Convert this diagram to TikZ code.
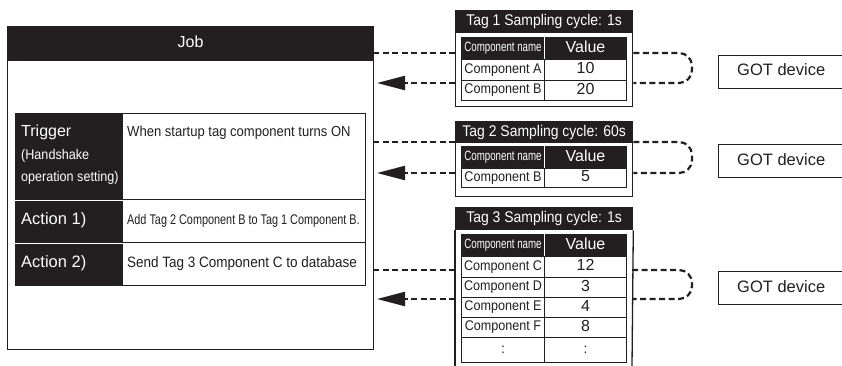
\documentclass[tikz,border=0pt]{standalone}
\usepackage{fontspec}
\setmainfont{Liberation Sans}
\usepackage{graphicx}
\usetikzlibrary{arrows.meta}
\definecolor{ink}{HTML}{231F20}
\newcommand{\tx}[3]{\scalebox{#1}[1]{\fontsize{#2}{#2}\selectfont\vphantom{Ag}#3}}
\begin{document}
\begin{tikzpicture}[x=1pt,y=-1pt,
  box/.style={draw=ink, line width=1pt, inner sep=0pt, anchor=north west, text=ink},
  blk/.style={box, fill=ink, text=white},
  txt/.style={inner sep=0pt, text=ink},
  wtxt/.style={inner sep=0pt, text=white},
  dline/.style={draw=ink, line width=2.2pt, dash pattern=on 6pt off 3.5pt},
  arr/.style={dline, -{Triangle[length=28pt,width=14pt]}},
  brk/.style={dline, rounded corners=13pt},
  got/.style={draw=ink, line width=0.9pt}
]
\useasboundingbox (0,0) rectangle (842,365);
\fill[white] (0,0) rectangle (842,365);

% ---------------- Job box ----------------
\node[blk, draw=none, minimum width=366pt, minimum height=34pt] (jobh) at (7,26) {};
\node[wtxt] (jobt) at (jobh.center) {\tx{1}{16}{Job}};
\node[box, line width=0.9pt, minimum width=366pt, minimum height=323pt] (job) at (7,26) {};

% inner table
\node[blk, minimum width=107pt, minimum height=86pt] (trL) at (15,113) {};
\node[box, minimum width=243pt, minimum height=86pt] (trR) at (122,113) {};
\node[blk, minimum width=107pt, minimum height=43pt] (a1L) at (15,199) {};
\node[box, minimum width=243pt, minimum height=43pt] (a1R) at (122,199) {};
\node[blk, minimum width=107pt, minimum height=43pt] (a2L) at (15,242) {};
\node[box, minimum width=243pt, minimum height=43pt] (a2R) at (122,242) {};
\draw[white, line width=1pt] (trL.south west) -- (trL.south east);
\draw[white, line width=1pt] (a1L.south west) -- (a1L.south east);

\node[wtxt, anchor=base west] (trg1) at (21,136) {\tx{1}{16}{Trigger}};
\node[wtxt, anchor=base west] (trg2) at (21,159) {\tx{.9}{14}{(Handshake}};
\node[wtxt, anchor=base west] (trg3) at (21,181) {\tx{.9}{14}{operation setting)}};
\node[txt, anchor=base west] (trgR) at (127,136) {\tx{.9}{14.5}{When startup tag component turns ON}};
\node[wtxt, anchor=west] (act1) at (21,220.5) {\tx{1}{16.5}{Action 1)}};
\node[txt, anchor=west] (act1R) at (127,220.5) {\tx{.776}{14}{Add Tag 2 Component B to Tag 1 Component B.}};
\node[wtxt, anchor=west] (act2) at (21,263.5) {\tx{1}{16.5}{Action 2)}};
\node[txt, anchor=west] (act2R) at (127,263.5) {\tx{.9}{15}{Send Tag 3 Component C to database}};

% ---------------- Tag 1 ----------------
\node[box, line width=1.3pt, minimum width=177pt, minimum height=96pt] (t1) at (455,10) {};
\node[blk, line width=1.3pt, minimum width=177pt, minimum height=22pt] (t1h) at (455,10) {\tx{.9}{15.5}{Tag 1 Sampling cycle: 1s}};
\node[blk, minimum width=83pt, minimum height=22pt] (t1n) at (461,37) {\tx{.72}{13.5}{Component name}};
\node[blk, minimum width=82pt, minimum height=22pt] (t1v) at (544,37) {\tx{1}{16}{Value}};
\draw[white, line width=0.8pt] (t1v.north west) -- (t1v.south west);
\node[box, minimum width=83pt, minimum height=21pt] (t1a) at (461,59) {\tx{.9}{14}{Component A}};
\node[box, minimum width=82pt, minimum height=21pt] (t1av) at (544,59) {\tx{1}{16}{10}};
\node[box, minimum width=83pt, minimum height=20pt] (t1b) at (461,80) {\tx{.9}{14}{Component B}};
\node[box, minimum width=82pt, minimum height=20pt] (t1bv) at (544,80) {\tx{1}{16}{20}};

% ---------------- Tag 2 ----------------
\node[box, line width=1.3pt, minimum width=177pt, minimum height=75pt] (t2) at (455,121) {};
\node[blk, line width=1.3pt, minimum width=177pt, minimum height=21pt] (t2h) at (455,121) {\tx{.9}{15.5}{Tag 2 Sampling cycle: 60s}};
\node[blk, minimum width=83pt, minimum height=22pt] (t2n) at (461,146) {\tx{.72}{13.5}{Component name}};
\node[blk, minimum width=82pt, minimum height=22pt] (t2v) at (544,146) {\tx{1}{16}{Value}};
\draw[white, line width=0.8pt] (t2v.north west) -- (t2v.south west);
\node[box, minimum width=83pt, minimum height=19pt] (t2b) at (461,168) {\tx{.9}{14}{Component B}};
\node[box, minimum width=82pt, minimum height=19pt] (t2bv) at (544,168) {\tx{1}{16}{5}};

% ---------------- Tag 3 ----------------
\node[blk, line width=1.3pt, minimum width=177pt, minimum height=22pt] (t3h) at (455,207) {\tx{.9}{15.5}{Tag 3 Sampling cycle: 1s}};
\draw[ink, line width=1.3pt] (t3h.south west) -- (455,366);
\draw[ink, line width=1.3pt] (t3h.south east) -- (632,366);
\coordinate (t3w) at (455,270);
\coordinate (t3e) at (632,270);
\node[blk, minimum width=83pt, minimum height=22pt] (t3n) at (461,234) {\tx{.72}{13.5}{Component name}};
\node[blk, minimum width=82pt, minimum height=22pt] (t3v) at (544,234) {\tx{1}{16}{Value}};
\draw[white, line width=0.8pt] (t3v.north west) -- (t3v.south west);
\node[box, minimum width=83pt, minimum height=21pt] (t3c) at (461,256) {\tx{.9}{14}{Component C}};
\node[box, minimum width=82pt, minimum height=21pt] (t3cv) at (544,256) {\tx{1}{16}{12}};
\node[box, minimum width=83pt, minimum height=20pt] (t3d) at (461,277) {\tx{.9}{14}{Component D}};
\node[box, minimum width=82pt, minimum height=20pt] (t3dv) at (544,277) {\tx{1}{16}{3}};
\node[box, minimum width=83pt, minimum height=20pt] (t3e2) at (461,297) {\tx{.9}{14}{Component E}};
\node[box, minimum width=82pt, minimum height=20pt] (t3ev) at (544,297) {\tx{1}{16}{4}};
\node[box, minimum width=83pt, minimum height=20pt] (t3f) at (461,317) {\tx{.9}{14}{Component F}};
\node[box, minimum width=82pt, minimum height=20pt] (t3fv) at (544,317) {\tx{1}{16}{8}};
\node[box, minimum width=83pt, minimum height=25pt] (t3g) at (461,337) {\tx{1}{14}{:}};
\node[box, minimum width=82pt, minimum height=25pt] (t3gv) at (544,337) {\tx{1}{14}{:}};

% ---------------- connectors ----------------
\coordinate (o1) at (373,53);  \coordinate (i1) at (377,83);
\coordinate (o2) at (373,142); \coordinate (i2) at (377,173);
\coordinate (o3) at (373,270); \coordinate (i3) at (377,299);

\draw[dline] (o1) -- (t1.west |- o1);
\draw[arr] (t1.west |- i1) -- (i1);
\draw[dline] (o2) -- (t2.west |- o2);
\draw[arr] (t2.west |- i2) -- (i2);
\draw[dline] (o3) -- (t3w |- o3);
\draw[arr] (t3w |- i3) -- (i3);

\draw[brk] (t1.east |- o1) -- (692,53) -- (692,83) -- (t1.east |- i1);
\draw[brk] (t2.east |- o2) -- (692,142) -- (692,173) -- (t2.east |- i2);
\draw[brk] (t3e |- o3) -- (692,270) -- (692,299) -- (t3e |- i3);

% ---------------- GOT devices ----------------
\draw[got] (842,55) -- (718,55) -- (718,88) -- (842,88);
\node[txt, anchor=west] (g1) at (737,71.5) {\tx{1}{16.5}{GOT device}};
\draw[got] (842,144.5) -- (718,144.5) -- (718,177.5) -- (842,177.5);
\node[txt, anchor=west] (g2) at (737,161) {\tx{1}{16.5}{GOT device}};
\draw[got] (842,271.5) -- (718,271.5) -- (718,304.5) -- (842,304.5);
\node[txt, anchor=west] (g3) at (737,288) {\tx{1}{16.5}{GOT device}};
\end{tikzpicture}
\end{document}
